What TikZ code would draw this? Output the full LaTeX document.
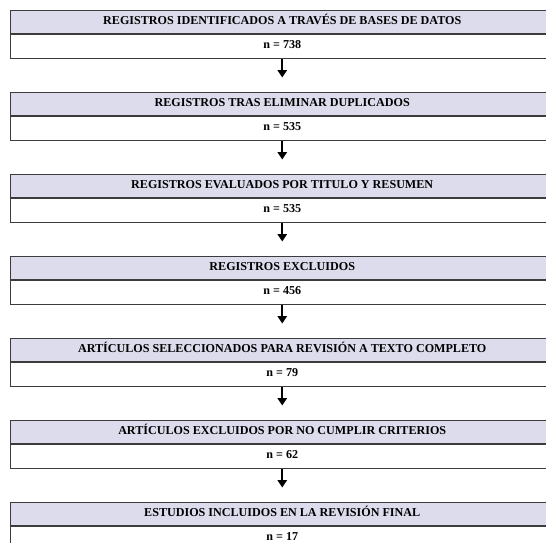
\documentclass[tikz,border=0pt]{standalone}
\usepackage{fontspec}
\setmainfont{Liberation Serif}
\usetikzlibrary{arrows.meta}
\definecolor{headfill}{RGB}{220,220,237}
\definecolor{rule}{RGB}{60,60,60}
\tikzset{
  stage/.style={draw=rule, line width=1pt, minimum width=544.5pt, anchor=north west,
    inner sep=0pt, font=\fontsize{12.1}{14}\selectfont\bfseries, text=black,
    text height=8.5pt, text depth=3.5pt},
  headrow/.style={stage, fill=headfill, minimum height=23pt},
  countrow/.style={stage, fill=white, minimum height=24.5pt},
  flow/.style={line width=1.7pt, -{Triangle[width=9.5pt,length=7.5pt]}, shorten >=14pt}
}
\begin{document}
\begin{tikzpicture}[x=1pt,y=-1pt]
\useasboundingbox (0,0) rectangle (546,542);
\clip (0,0) rectangle (546,542);
\foreach \i/\head/\num in {
  1/{REGISTROS IDENTIFICADOS A TRAVÉS DE BASES DE DATOS}/738,
  2/{REGISTROS TRAS ELIMINAR DUPLICADOS}/535,
  3/{REGISTROS EVALUADOS POR TITULO Y RESUMEN}/535,
  4/{REGISTROS EXCLUIDOS}/456,
  5/{ARTÍCULOS SELECCIONADOS PARA REVISIÓN A TEXTO COMPLETO}/79,
  6/{ARTÍCULOS EXCLUIDOS POR NO CUMPLIR CRITERIOS}/62,
  7/{ESTUDIOS INCLUIDOS EN LA REVISIÓN FINAL}/17} {
  \node[headrow] (h\i) at (9.5, {9.5+82*(\i-1)}) {\head};
  \node[countrow] (n\i) at (h\i.south west) {n = \num};
}
\foreach \i [evaluate=\i as \j using int(\i+1)] in {1,...,6}
  \draw[flow] (n\i.south) -- (h\j.north);
\end{tikzpicture}
\end{document}
